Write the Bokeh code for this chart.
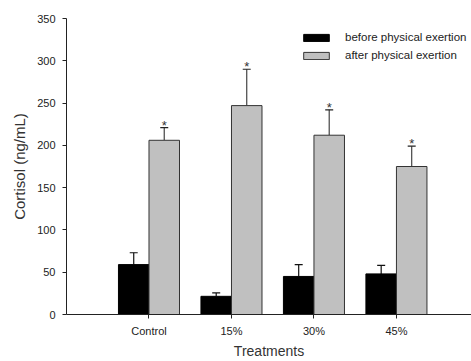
from bokeh.plotting import figure
from bokeh.models import Range1d, FixedTicker, Whisker, TeeHead, ColumnDataSource, Legend, LegendItem
from bokeh.core.properties import value
from bokeh.embed import file_html
from bokeh.resources import INLINE

categories = ["Control", "15%", "30%", "45%"]
before_mean = [59, 21.5, 45, 48]
before_err = [14, 4, 14, 10]
after_mean = [206, 247, 212, 175]
after_err = [15, 43, 30, 24]
y_ticks = [0, 50, 100, 150, 200, 250, 300, 350]

positions = [1, 2, 3, 4]
offset = 0.185
bar_w = 0.37

FONT = "Liberation Sans"

p = figure(frame_width=405, frame_height=296, output_backend="svg", toolbar_location=None,
           x_range=Range1d(0, 4.91), y_range=Range1d(0, 350),
           min_border_left=66, min_border_right=0, min_border_top=18, min_border_bottom=0)
p.outline_line_color = None
p.grid.grid_line_color = None
p.background_fill_color = "white"

xb = [x - offset for x in positions]
xa = [x + offset for x in positions]

src_b = ColumnDataSource(dict(x=xb, top=before_mean, up=[m + e for m, e in zip(before_mean, before_err)]))
src_a = ColumnDataSource(dict(x=xa, top=after_mean, up=[m + e for m, e in zip(after_mean, after_err)],
                              star=["*"] * len(xa)))

rb = p.vbar(x="x", top="top", width=bar_w, bottom=0, source=src_b,
            fill_color="black", line_color="black", line_width=1)
ra = p.vbar(x="x", top="top", width=bar_w, bottom=0, source=src_a,
            fill_color="#c0c0c0", line_color="#333333", line_width=1)

wb = Whisker(base="x", lower="top", upper="up", source=src_b, dimension="height",
             line_color="#111111", line_width=1.2, lower_head=None,
             upper_head=TeeHead(size=8, line_color="#111111", line_width=1.2))
wa = Whisker(base="x", lower="top", upper="up", source=src_a, dimension="height",
             line_color="#444444", line_width=1.2, lower_head=None,
             upper_head=TeeHead(size=8, line_color="#222222", line_width=1.2))
p.add_layout(wb)
p.add_layout(wa)

p.text(x="x", y="up", text="star", source=src_a, y_offset=5, text_align="center",
       text_baseline="bottom", text_font=value(FONT), text_font_size="13px", text_color="#333333")

# axes
p.yaxis.ticker = FixedTicker(ticks=y_ticks)
p.xaxis.ticker = FixedTicker(ticks=positions)
p.xaxis.major_label_overrides = {pos: c for pos, c in zip(positions, categories)}
for ax in (p.xaxis, p.yaxis):
    ax.axis_line_color = "#222222"
    ax.major_tick_line_color = "#222222"
    ax.major_tick_in = 0
    ax.major_tick_out = 4
    ax.minor_tick_line_color = None
    ax.major_label_text_font = FONT
    ax.major_label_text_font_size = "11px"
    ax.major_label_text_color = "#222222"
    ax.axis_label_text_font = FONT
    ax.axis_label_text_font_style = "normal"
    ax.axis_label_text_color = "#333333"
p.yaxis.axis_label_text_font_size = "15px"
p.xaxis.axis_label_text_font_size = "14px"
p.yaxis.major_label_standoff = 7
p.xaxis.major_label_standoff = 6
p.yaxis.axis_label = "Cortisol (ng/mL)"
p.xaxis.axis_label = "Treatments"
p.yaxis.axis_label_standoff = 6
p.xaxis.axis_label_standoff = 3

legend = Legend(items=[LegendItem(label="before physical exertion", renderers=[rb]),
                       LegendItem(label="after physical exertion", renderers=[ra])],
                location=(234, 253), glyph_width=32, glyph_height=9, label_height=12,
                spacing=6, padding=0, margin=0, label_standoff=13,
                label_text_font=FONT, label_text_font_size="11.5px", label_text_color="#222222",
                border_line_color=None, background_fill_alpha=0)
p.add_layout(legend)

open("out.html", "w").write(file_html(p, INLINE))
